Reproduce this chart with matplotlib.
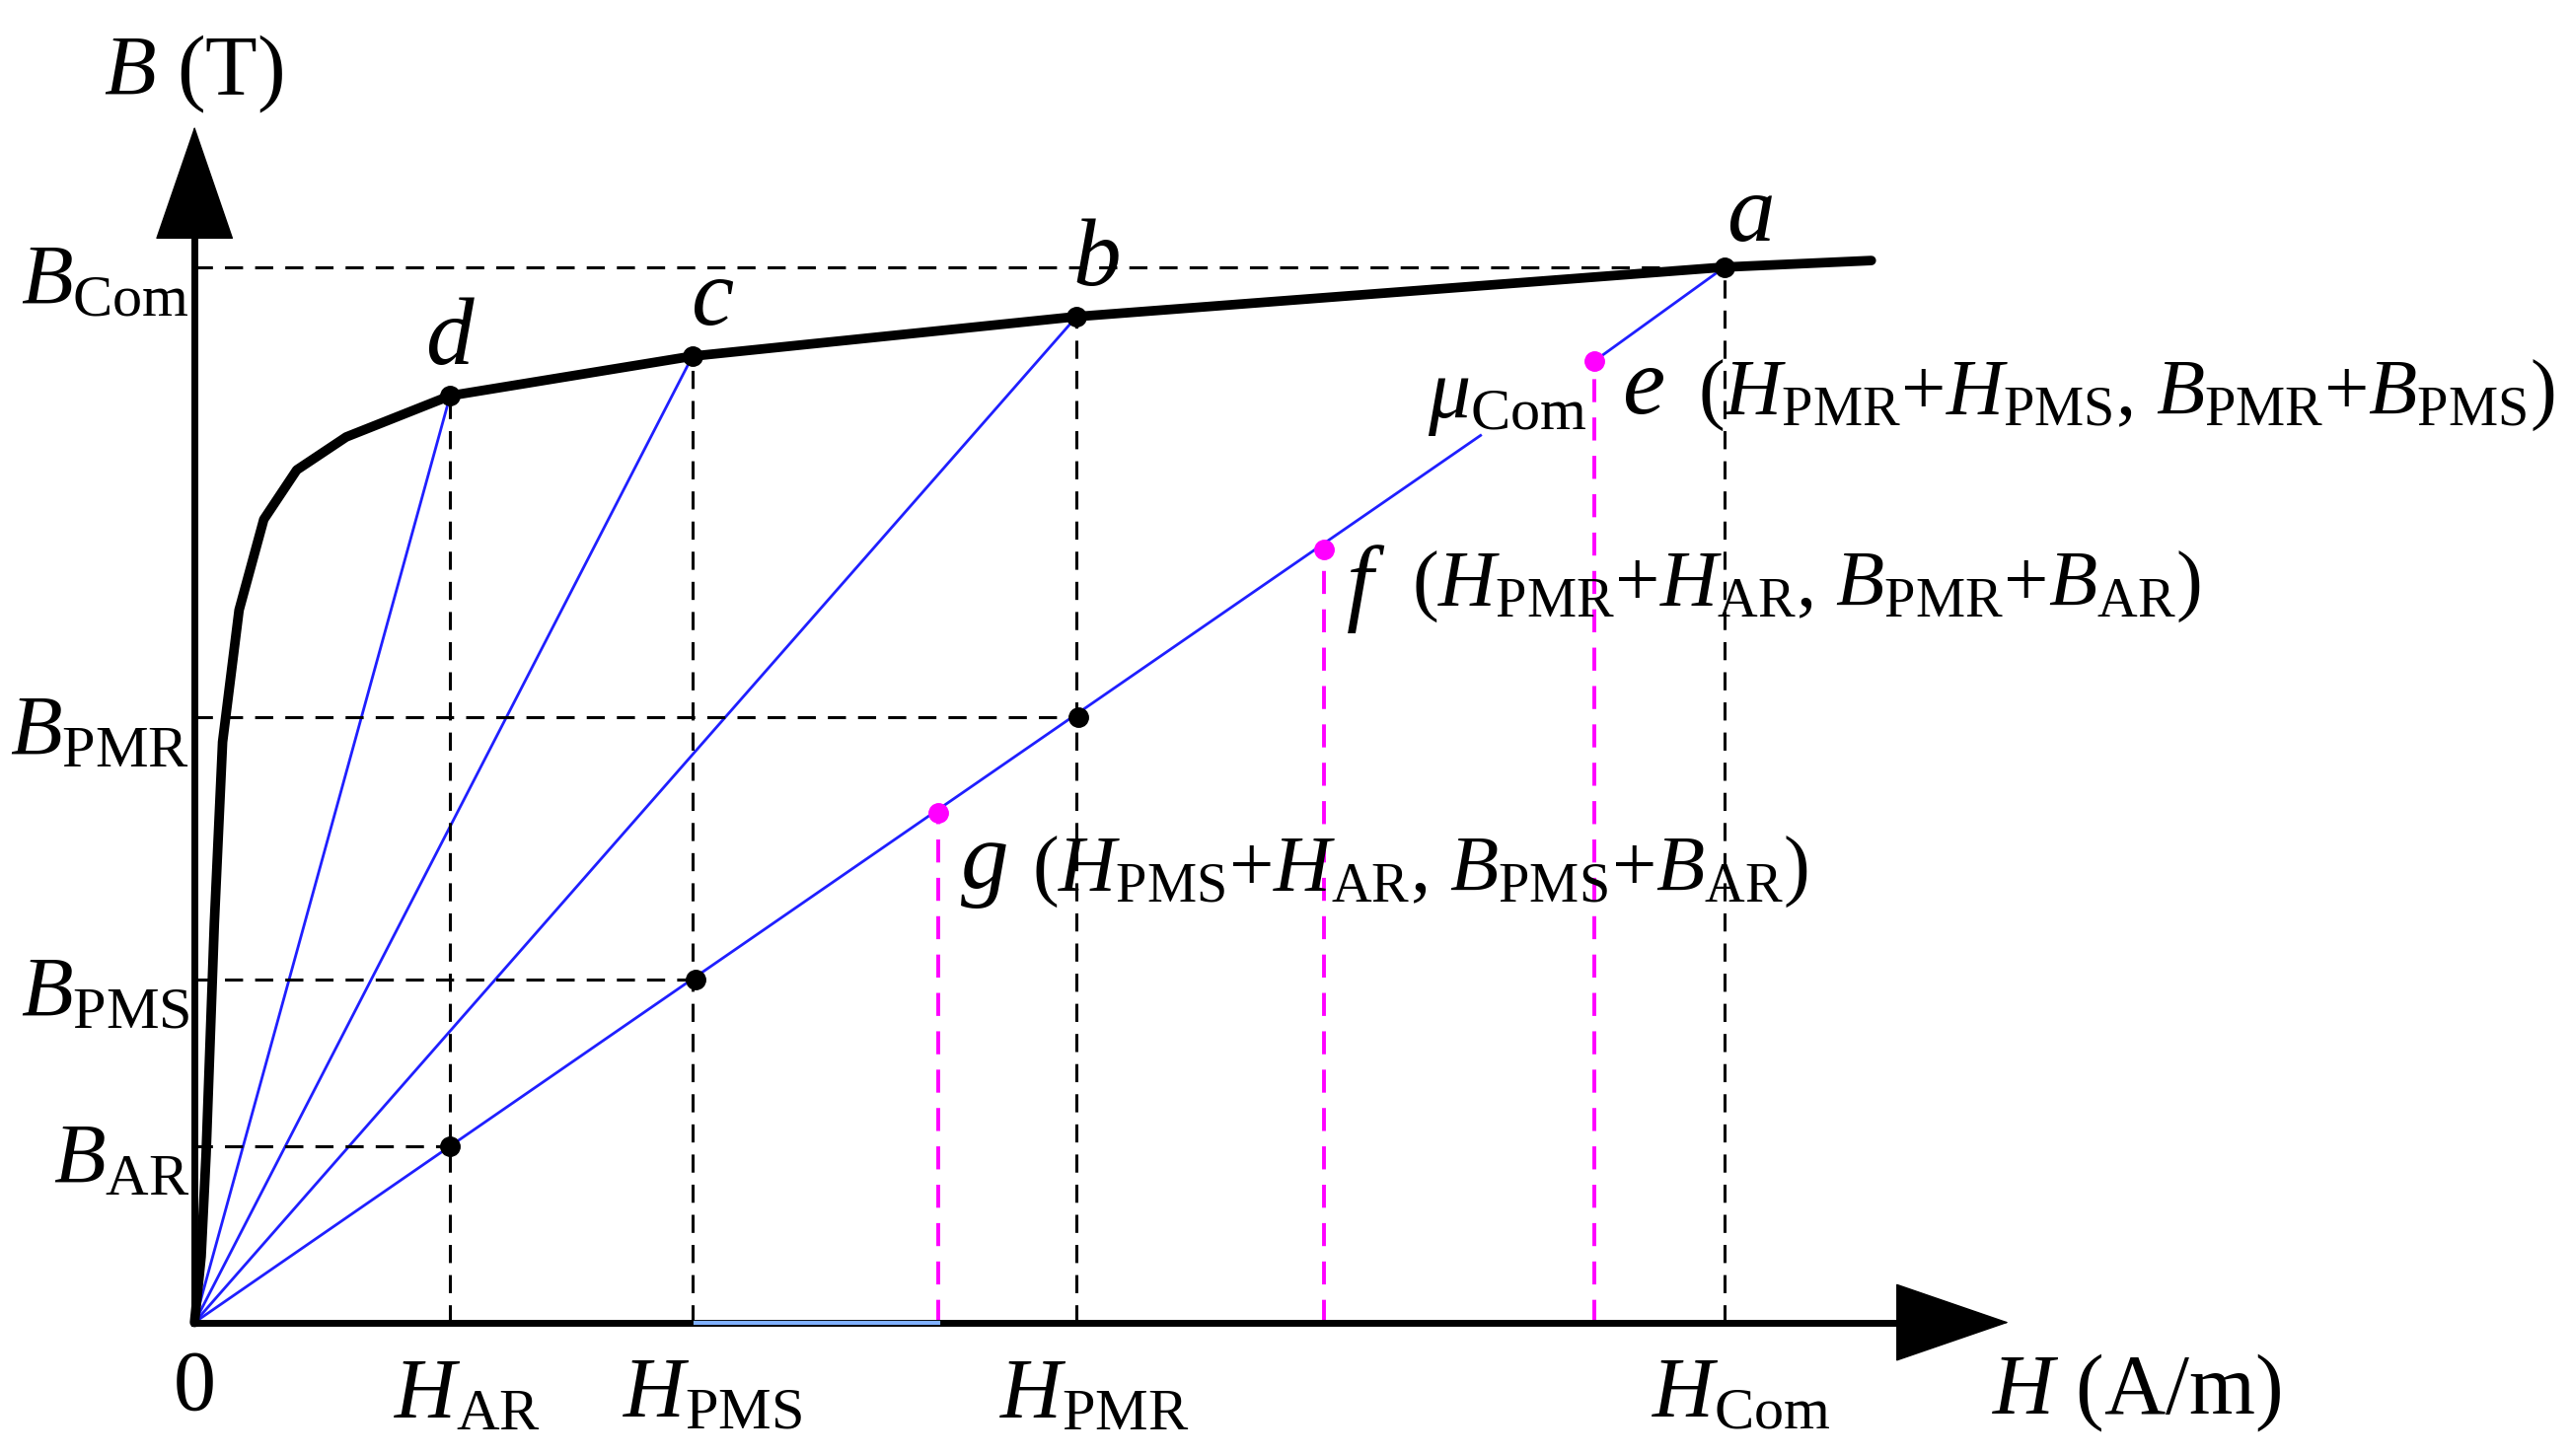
import matplotlib
matplotlib.use("Agg")
import matplotlib.pyplot as plt

plt.rcParams['font.family'] = ['Liberation Serif']
plt.rcParams['mathtext.fontset'] = 'custom'
plt.rcParams['mathtext.rm'] = 'Liberation Serif'
plt.rcParams['mathtext.it'] = 'Liberation Serif:italic'

# B-H curve (arbitrary units)
curve_H = [0, 4, 7, 12, 17, 27, 42, 62, 92, 155, 302, 535, 928, 1017]
curve_B = [0, 40, 102, 242, 352, 432, 487, 517, 537, 562, 586, 610, 640, 644]
# operating points
pts = {'a': (928, 640), 'b': (535, 610), 'c': (302, 586), 'd': (155, 562)}
H_ticks = {'AR': 155, 'PMS': 304, 'PMR': 536, 'Com': 928}
B_ticks = {'AR': 107, 'PMS': 208, 'PMR': 367, 'Com': 640}
pink = {'g': (451, 309), 'f': (685, 469), 'e': (849, 583)}

fig = plt.figure(figsize=(26.07, 14.76), dpi=100)
ax = fig.add_axes([0, 0, 1, 1])
ax.set_xlim(-118, 1442)
ax.set_ylim(-81, 802)
ax.axis('off')

FS = 62
FS2 = 58
blue = '#1f1fff'
for k in ['d', 'c', 'b']:
    ax.plot([0, pts[k][0]], [0, pts[k][1]], color=blue, lw=2)
slope = pts['a'][1] / pts['a'][0]
ax.plot([0, 780], [0, 780 * slope], color=blue, lw=2)
ax.plot([pink['e'][0], pts['a'][0]], [pink['e'][1], pts['a'][1]], color=blue, lw=2)
ax.plot([H_ticks['PMS'], pink['g'][0]], [0, 0], color='#7fb0ff', lw=3, zorder=4)

for k in pts:
    ax.plot([pts[k][0]] * 2, [0, pts[k][1]], 'k--', lw=2.2, dashes=(6, 4))
ax.plot([0, pts['a'][0]], [B_ticks['Com']] * 2, 'k--', lw=2.2, dashes=(6, 4))
inner = [(H_ticks['PMR'], B_ticks['PMR']), (H_ticks['PMS'], B_ticks['PMS']), (H_ticks['AR'], B_ticks['AR'])]
for h, b in inner:
    ax.plot([0, h], [b, b], 'k--', lw=2.2, dashes=(6, 4))
    ax.plot(h, b, 'ko', ms=14, zorder=6)
for k, (h, b) in pink.items():
    ax.plot([h, h], [0, b], '--', color='#ff00ff', lw=2.8, dashes=(6, 4))
    ax.plot(h, b, 'o', color='#ff00ff', ms=14, zorder=6)

ax.plot(curve_H, curve_B, 'k-', lw=7, solid_capstyle='round', solid_joinstyle='round', zorder=5)
for k, (h, b) in pts.items():
    ax.plot(h, b, 'ko', ms=14, zorder=6)

ax.plot([0, 0], [0, 690], 'k-', lw=5)
ax.plot([0, 1060], [0, 0], 'k-', lw=5)
ax.annotate('', xy=(0, 727), xytext=(0, 660),
            arrowprops=dict(arrowstyle='-|>,head_length=1.6,head_width=0.55', color='k', lw=1, mutation_scale=50))
ax.annotate('', xy=(1102, 0), xytext=(1030, 0),
            arrowprops=dict(arrowstyle='-|>,head_length=1.6,head_width=0.55', color='k', lw=1, mutation_scale=50))

ax.text(-55, 757, r'$B$ (T)', fontsize=FS, va='center')
ax.text(0, -40, '0', fontsize=FS, ha='center', va='center')
ax.text(1090, -43, r'$H$ (A/m)', fontsize=FS, va='center')
for k, h in H_ticks.items():
    ax.text(h + 10, -45, r'$H_{\mathrm{%s}}$' % k, fontsize=FS, ha='center', va='center')
for k, b in B_ticks.items():
    ax.text(-3, b - 10, r'$B_{\mathrm{%s}}$' % k, fontsize=FS, ha='right', va='center')
for k, (dx, dy) in {'a': (15, 30), 'b': (12, 33), 'c': (12, 33), 'd': (0, 33)}.items():
    ax.text(pts[k][0] + dx, pts[k][1] + dy, r'$%s$' % k, fontsize=FS + 8, ha='center', va='center')
ax.text(748, 560, r'$\mu_{\mathrm{Com}}$', fontsize=FS, va='center')
ax.text(866, 565, r'$e$', fontsize=FS + 8, va='center')
ax.text(912, 562, r'($H_{\mathrm{PMR}}$+$H_{\mathrm{PMS}}$, $B_{\mathrm{PMR}}$+$B_{\mathrm{PMS}}$)', fontsize=FS2, va='center')
ax.text(698, 445, r'$f$', fontsize=FS + 8, va='center')
ax.text(738, 446, r'($H_{\mathrm{PMR}}$+$H_{\mathrm{AR}}$, $B_{\mathrm{PMR}}$+$B_{\mathrm{AR}}$)', fontsize=FS2, va='center')
ax.text(464, 276, r'$g$', fontsize=FS + 8, va='center')
ax.text(508, 273, r'($H_{\mathrm{PMS}}$+$H_{\mathrm{AR}}$, $B_{\mathrm{PMS}}$+$B_{\mathrm{AR}}$)', fontsize=FS2, va='center')

fig.savefig('out.png', dpi=100)
